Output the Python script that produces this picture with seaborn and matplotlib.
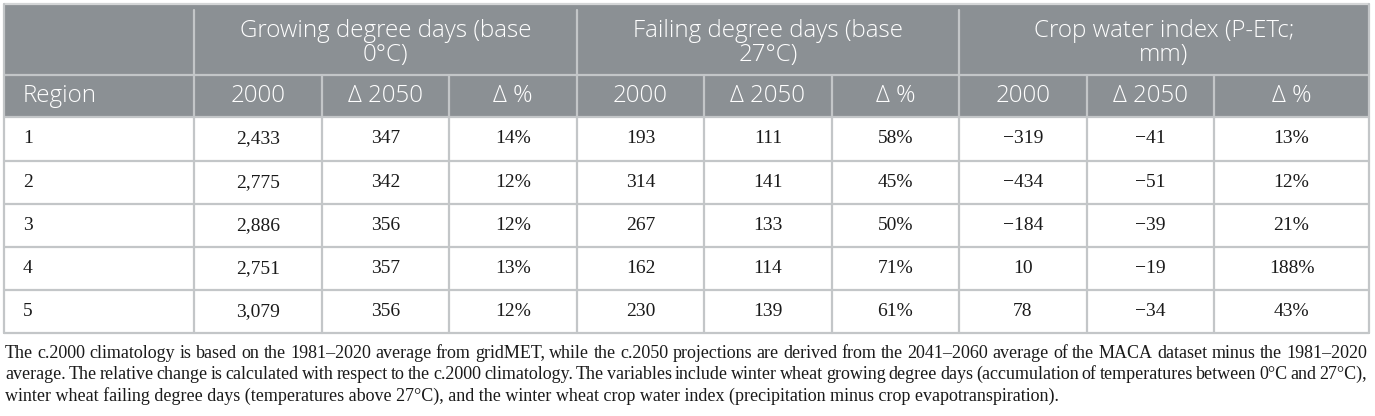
import pandas as pd
import matplotlib.pyplot as plt
import seaborn as sns

sns.set_style('white')
plt.rcParams['font.family'] = ['Liberation Serif', 'DejaVu Serif']

# dados da tabela
regions = ['1', '2', '3', '4', '5']
gdd_2000 = [2433, 2775, 2886, 2751, 3079]
gdd_d2050 = [347, 342, 356, 357, 356]
gdd_pct = [14, 12, 12, 13, 12]
fdd_2000 = [193, 314, 267, 162, 230]
fdd_d2050 = [111, 141, 133, 114, 139]
fdd_pct = [58, 45, 50, 71, 61]
cwi_2000 = [-319, -434, -184, 10, 78]
cwi_d2050 = [-41, -51, -39, -19, -34]
cwi_pct = [13, 12, 21, 188, 43]

groups = ['Growing degree days (base\n0°C)',
          'Failing degree days (base\n27°C)',
          'Crop water index (P-ETc;\nmm)']
sub_headers = ['Region', '2000', 'Δ 2050', 'Δ %'] + ['2000', 'Δ 2050', 'Δ %'] * 2

footnote = [
    'The c.2000 climatology is based on the 1981–2020 average from gridMET, while the c.2050 projections are derived from the 2041–2060 average of the MACA dataset minus the 1981–2020',
    'average. The relative change is calculated with respect to the c.2000 climatology. The variables include winter wheat growing degree days (accumulation of temperatures between 0°C and 27°C),',
    'winter wheat failing degree days (temperatures above 27°C), and the winter wheat crop water index (precipitation minus crop evapotranspiration).',
]

df = pd.DataFrame({
    'Region': regions,
    'gdd_2000': gdd_2000, 'gdd_d2050': gdd_d2050, 'gdd_pct': gdd_pct,
    'fdd_2000': fdd_2000, 'fdd_d2050': fdd_d2050, 'fdd_pct': fdd_pct,
    'cwi_2000': cwi_2000, 'cwi_d2050': cwi_d2050, 'cwi_pct': cwi_pct,
})


def fmt_num(v):
    s = f'{abs(v):,}'
    return ('−' + s) if v < 0 else s


# layout em pixels
col_edges = [4.5, 194, 322, 449, 577, 704, 832, 959, 1087, 1214, 1369]
row_edges = [4, 75, 117, 160.5, 204, 247, 290, 333]
header_bg = '#8b9094'
line_col = '#c3c6c8'
head_font = ['Open Sans', 'DejaVu Sans']
head_size = 17.4
body_size = 14
foot_size = 13
txt_col = '#1a1a1a'

fig = plt.figure(figsize=(13.75, 4.16), dpi=100)
ax = fig.add_axes([0, 0, 1, 1])
ax.set_xlim(0, 1375)
ax.set_ylim(416, 0)
ax.axis('off')

# fundo do cabeçalho
ax.add_patch(plt.Rectangle((col_edges[0], row_edges[0]), col_edges[-1] - col_edges[0],
                           row_edges[2] - row_edges[0], color=header_bg, lw=0, zorder=1))

# linhas horizontais
for i, y in enumerate(row_edges):
    c = '#d4d6d7' if i == 0 else line_col
    ax.plot([col_edges[0], col_edges[-1]], [y, y], color=c, lw=1.6, zorder=2)

# linhas verticais
for j, x in enumerate(col_edges):
    if j in (0, len(col_edges) - 1):
        y0 = row_edges[0]
    elif j in (1, 4, 7):
        y0 = row_edges[0] + 6
    else:
        y0 = row_edges[1]
    ax.plot([x, x], [y0, row_edges[-1]], color=line_col, lw=1.6, zorder=2)

# cabeçalho 1
for g, name in enumerate(groups):
    xc = (col_edges[1 + 3 * g] + col_edges[4 + 3 * g]) / 2
    l1, l2 = name.split('\n')
    ax.text(xc, 31, l1, ha='center', va='center', color='white', fontsize=head_size,
            family=head_font, fontweight='light', zorder=3)
    ax.text(xc, 55, l2, ha='center', va='center', color='white', fontsize=head_size,
            family=head_font, fontweight='light', zorder=3)

# cabeçalho 2
yh = (row_edges[1] + row_edges[2]) / 2
for j, lab in enumerate(sub_headers):
    if j == 0:
        ax.text(23, yh, lab, ha='left', va='center', color='white', fontsize=head_size,
                family=head_font, fontweight='light', zorder=3)
    else:
        xc = (col_edges[j] + col_edges[j + 1]) / 2
        ax.text(xc, yh, lab, ha='center', va='center', color='white', fontsize=head_size,
                family=head_font, fontweight='light', zorder=3)

# corpo da tabela
cols = list(df.columns)
for i, row in df.iterrows():
    yc = (row_edges[2 + i] + row_edges[3 + i]) / 2
    for j, c in enumerate(cols):
        v = row[c]
        if c == 'Region':
            ax.text(23, yc, v, ha='left', va='center', color=txt_col, fontsize=body_size, zorder=3)
            continue
        s = f'{v}%' if c.endswith('pct') else fmt_num(v)
        xc = (col_edges[j] + col_edges[j + 1]) / 2
        ax.text(xc, yc, s, ha='center', va='center', color=txt_col, fontsize=body_size, zorder=3)

# nota de rodapé (justificada nas duas primeiras linhas)
fig.canvas.draw()
renderer = fig.canvas.get_renderer()
x_left, x_right = 5, 1367
foot_y = [353, 374.5, 396]
for k, line in enumerate(footnote):
    if k == len(footnote) - 1:
        ax.text(x_left, foot_y[k], line, ha='left', va='center', color=txt_col, fontsize=foot_size)
        continue
    words = line.split(' ')
    widths = []
    for w in words:
        t = ax.text(0, 0, w, fontsize=foot_size)
        bb = t.get_window_extent(renderer)
        widths.append(bb.width)
        t.remove()
    gap = (x_right - x_left - sum(widths)) / (len(words) - 1)
    x = x_left
    for w, wd in zip(words, widths):
        ax.text(x, foot_y[k], w, ha='left', va='center', color=txt_col, fontsize=foot_size)
        x += wd + gap

plt.savefig('out.png', dpi=100)
